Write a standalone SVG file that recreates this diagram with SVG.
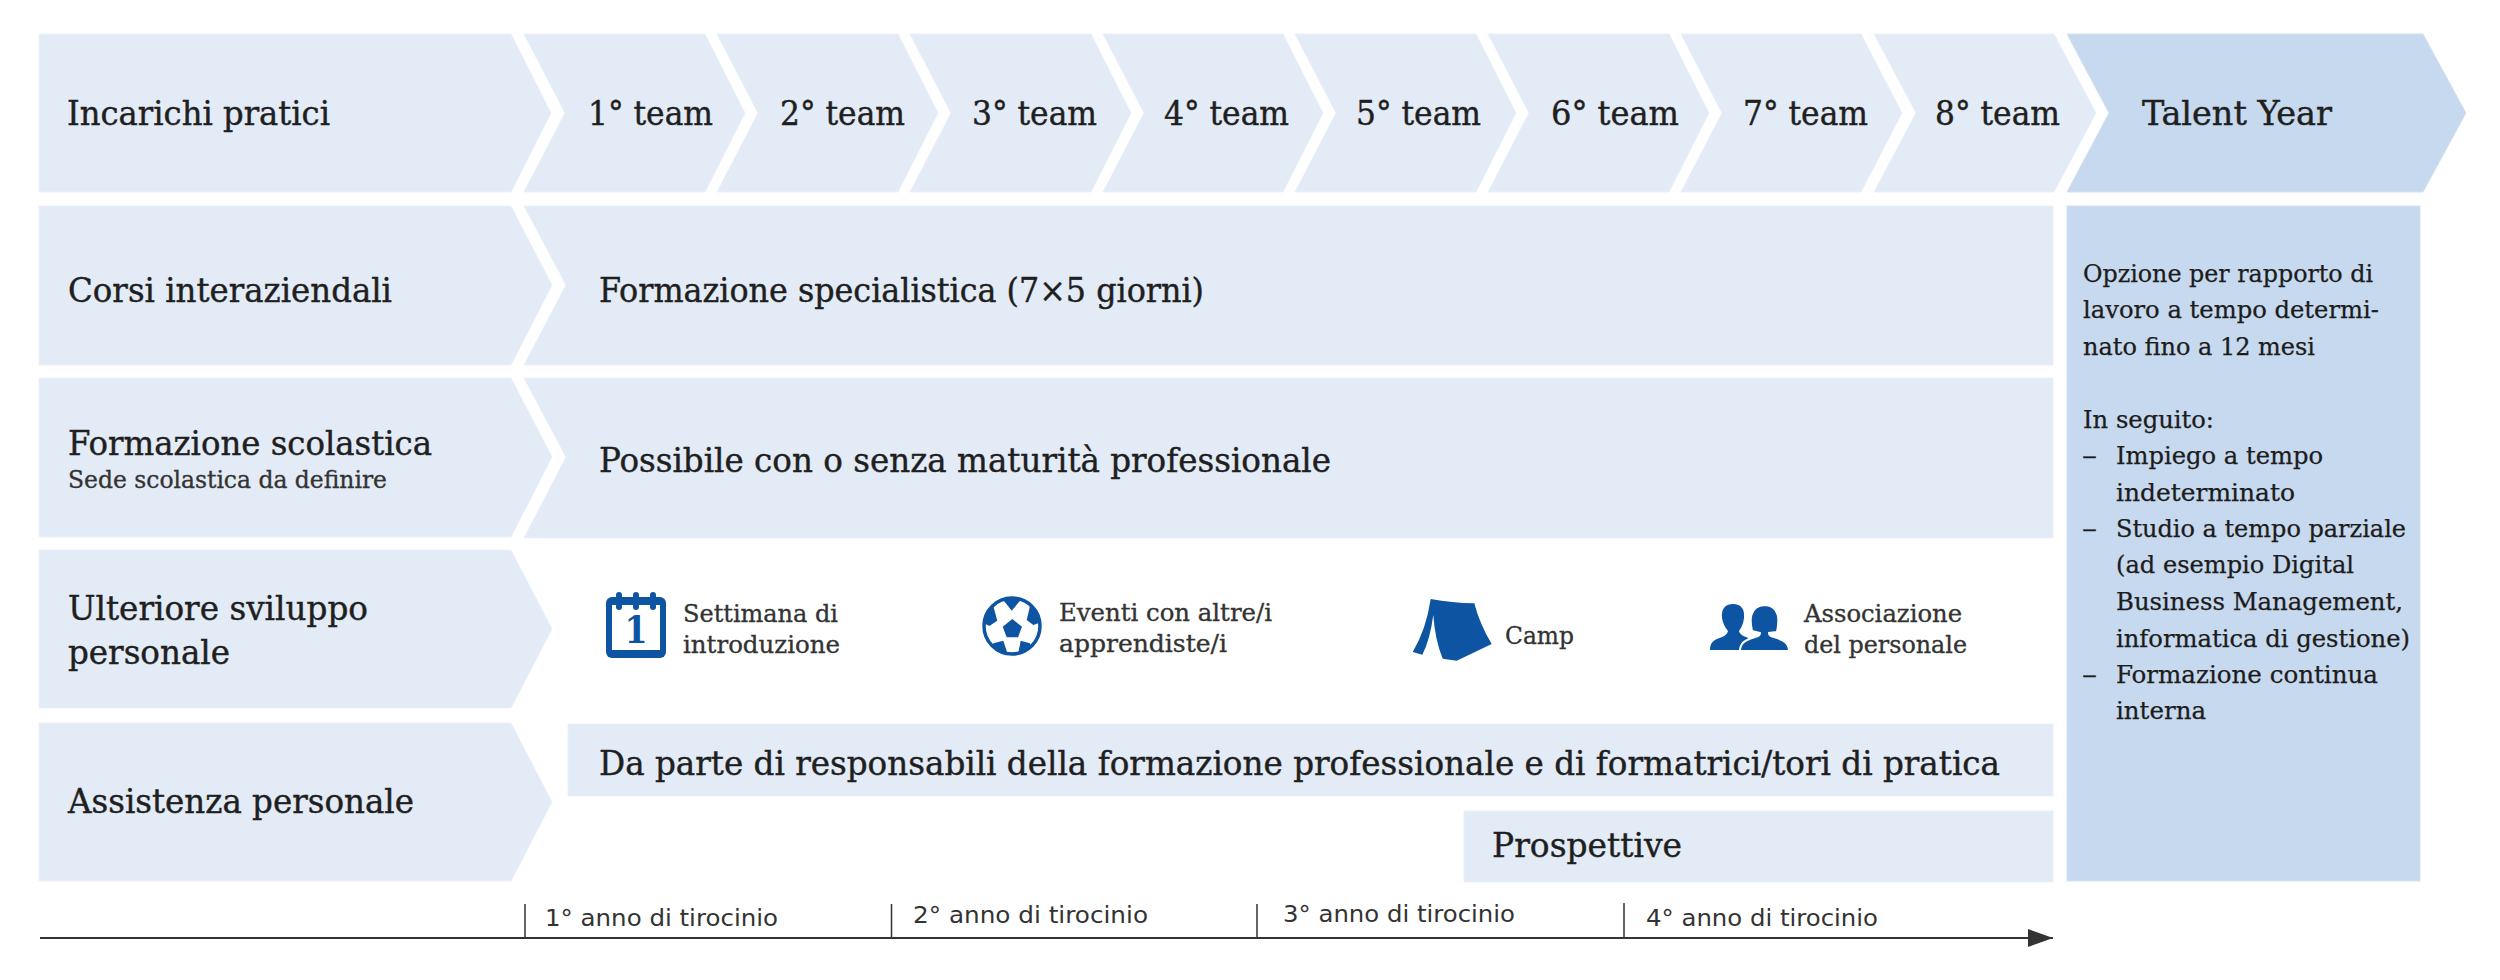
<svg xmlns="http://www.w3.org/2000/svg" width="2500" height="980" viewBox="0 0 2500 980">
<style>
.a{fill:#e3ebf6;stroke:#ebf1f9;stroke-width:1}
.b{fill:#c7d9ee;stroke:#d3e2f2;stroke-width:1}
text{font-family:"DejaVu Serif Condensed","DejaVu Serif",serif;fill:#1f1f1f}
.l{font-size:34px;stroke:#1f1f1f;stroke-width:.4}
.m{font-size:25px;fill:#1c1c1c;stroke:#1c1c1c;stroke-width:.25}
.s{font-size:24px;fill:#333;stroke:#333;stroke-width:.3}
.y{font-family:"DejaVu Sans","Liberation Sans",sans-serif;font-size:23px;fill:#333}
.i{fill:#0d55a3}
.ax{stroke:#333;fill:none}
</style>
<defs>
<marker id="ah" markerUnits="userSpaceOnUse" markerWidth="26" markerHeight="20" refX="25" refY="10" orient="auto"><path d="M0 1L25 10L0 19Z" fill="#333"/></marker>
<clipPath id="ball"><circle cx="1012" cy="626" r="29"/></clipPath>
</defs>
<rect width="2500" height="980" fill="#fff"/>

<g id="row-incarichi">
<path class="a" d="M39 34H511L551 113L511 192H39Z"/>
<text class="l" x="67" y="125" textLength="263" lengthAdjust="spacingAndGlyphs">Incarichi pratici</text>
</g>
<g id="team-1"><path class="a" d="M524 34H705L745 113L705 192H524L565 113Z"/><text class="l" x="588" y="125" textLength="125" lengthAdjust="spacingAndGlyphs">1° team</text></g>
<g id="team-2"><path class="a" d="M717 34H898L938 113L898 192H717L758 113Z"/><text class="l" x="780" y="125" textLength="125" lengthAdjust="spacingAndGlyphs">2° team</text></g>
<g id="team-3"><path class="a" d="M910 34H1091L1131 113L1091 192H910L951 113Z"/><text class="l" x="972" y="125" textLength="125" lengthAdjust="spacingAndGlyphs">3° team</text></g>
<g id="team-4"><path class="a" d="M1103 34H1283L1323 113L1283 192H1103L1144 113Z"/><text class="l" x="1164" y="125" textLength="125" lengthAdjust="spacingAndGlyphs">4° team</text></g>
<g id="team-5"><path class="a" d="M1295 34H1476L1516 113L1476 192H1295L1336 113Z"/><text class="l" x="1356" y="125" textLength="125" lengthAdjust="spacingAndGlyphs">5° team</text></g>
<g id="team-6"><path class="a" d="M1488 34H1669L1709 113L1669 192H1488L1529 113Z"/><text class="l" x="1551" y="125" textLength="128" lengthAdjust="spacingAndGlyphs">6° team</text></g>
<g id="team-7"><path class="a" d="M1681 34H1861L1902 113L1861 192H1681L1722 113Z"/><text class="l" x="1743" y="125" textLength="125" lengthAdjust="spacingAndGlyphs">7° team</text></g>
<g id="team-8"><path class="a" d="M1874 34H2054L2096 113L2054 192H1874L1916 113Z"/><text class="l" x="1935" y="125" textLength="125" lengthAdjust="spacingAndGlyphs">8° team</text></g>
<g id="talent-year"><path class="b" d="M2067 34H2423L2466 113L2423 192H2067L2109 113Z"/><text class="l" x="2142" y="125" textLength="190" lengthAdjust="spacingAndGlyphs">Talent Year</text></g>

<g id="row-corsi">
<path class="a" d="M39 206H511L552 285L511 365H39Z"/>
<text class="l" x="68" y="302" textLength="324" lengthAdjust="spacingAndGlyphs">Corsi interaziendali</text>
</g>
<g id="corsi-bar">
<path class="a" d="M524 206H2053V365H524L566 285Z"/>
<text class="l" x="599" y="302" textLength="605" lengthAdjust="spacingAndGlyphs">Formazione specialistica (7×5 giorni)</text>
</g>
<g id="row-formazione">
<path class="a" d="M39 378H511L552 457L511 537H39Z"/>
<text class="l" x="68" y="455" textLength="364" lengthAdjust="spacingAndGlyphs">Formazione scolastica</text>
<text class="s" x="68" y="488" textLength="319" lengthAdjust="spacingAndGlyphs">Sede scolastica da definire</text>
</g>
<g id="formazione-bar">
<path class="a" d="M524 378H2053V538H524L566 457Z"/>
<text class="l" x="599" y="472" textLength="732" lengthAdjust="spacingAndGlyphs">Possibile con o senza maturità professionale</text>
</g>
<g id="row-sviluppo">
<path class="a" d="M39 550H511L552 629L511 708H39Z"/>
<text class="l" x="68" y="620" textLength="300" lengthAdjust="spacingAndGlyphs">Ulteriore sviluppo</text>
<text class="l" x="68" y="664" textLength="162" lengthAdjust="spacingAndGlyphs">personale</text>
</g>
<g id="settimana">
<rect class="i" x="606" y="597" width="60" height="61" rx="6"/>
<rect x="612" y="605" width="48" height="45" fill="#fff"/>
<path d="M619 595V607M636 595V607M653 595V607" stroke="#0d55a3" stroke-width="6" stroke-linecap="round"/>
<text x="636" y="643" text-anchor="middle" font-size="37" font-weight="700" style="fill:#0d55a3">1</text>
<text class="s" x="683" y="622" textLength="155" lengthAdjust="spacingAndGlyphs">Settimana di</text>
<text class="s" x="683" y="653" textLength="157" lengthAdjust="spacingAndGlyphs">introduzione</text>
</g>
<g id="eventi">
<circle cx="1012" cy="626" r="28" fill="#fff" stroke="#0d55a3" stroke-width="3.5"/>
<g clip-path="url(#ball)" class="i">
<path d="M1012.3 619L1022 626.7L1018 637.3L1006.7 637.3L1002.7 626.7Z"/>
<path d="M1000 596L1011.7 610.7L1024 596Z"/>
<path d="M982 622L989.3 626L997.3 620.7L993.3 606L982 606Z"/>
<path d="M1042 622L1033.3 625L1026.7 620L1030 606L1042 606Z"/>
<path d="M993.3 643.3L1003.3 640.7L1008.3 656L990 656Z"/>
<path d="M1030 643.3L1020.7 640.7L1017.7 656L1034 656Z"/>
</g>
<text class="s" x="1059" y="621" textLength="213" lengthAdjust="spacingAndGlyphs">Eventi con altre/i</text>
<text class="s" x="1059" y="652" textLength="168" lengthAdjust="spacingAndGlyphs">apprendiste/i</text>
</g>
<g id="camp">
<path class="i" d="M1430.7 599Q1452 603 1474.3 603.3Q1480 625 1491.7 644L1456.7 660.7L1442.7 658.7Q1435 640 1433.3 615Q1430 640 1422.3 654.7L1412.7 652Q1426 630 1430.7 599Z"/>
<text class="s" x="1505" y="644" textLength="69" lengthAdjust="spacingAndGlyphs">Camp</text>
</g>
<g id="associazione">
<path class="i" d="M1710 650C1710 643 1713 640 1722 637Q1727 635 1728 631Q1723 625 1722 618C1721 608 1726 604 1733 604C1741 604 1745 609 1744 618Q1743 626 1739 631Q1740 635 1746 637L1750 639L1740 650Z"/>
<path class="i" stroke="#fff" stroke-width="2" d="M1740 651C1740 643 1745 640 1755 637Q1760 636 1760 633L1752 631C1750 622 1748 606 1765 605C1781 606 1779 622 1777 632L1769 633Q1769 636 1774 637C1784 640 1789 643 1789 651Z"/>
<text class="s" x="1804" y="622" textLength="158" lengthAdjust="spacingAndGlyphs">Associazione</text>
<text class="s" x="1804" y="653" textLength="163" lengthAdjust="spacingAndGlyphs">del personale</text>
</g>
<g id="row-assistenza">
<path class="a" d="M39 723H511L552 802L511 881H39Z"/>
<text class="l" x="68" y="813" textLength="346" lengthAdjust="spacingAndGlyphs">Assistenza personale</text>
</g>
<g id="assistenza-bar">
<rect class="a" x="568" y="724" width="1485" height="72"/>
<text class="l" x="599" y="775" textLength="1401" lengthAdjust="spacingAndGlyphs">Da parte di responsabili della formazione professionale e di formatrici/tori di pratica</text>
</g>
<g id="prospettive">
<rect class="a" x="1464" y="811" width="589" height="71"/>
<text class="l" x="1492" y="857" textLength="190" lengthAdjust="spacingAndGlyphs">Prospettive</text>
</g>
<g id="talent-panel">
<rect class="b" x="2067" y="206" width="353" height="675"/>
<text class="m" x="2083" y="282" textLength="290" lengthAdjust="spacingAndGlyphs">Opzione per rapporto di</text>
<text class="m" x="2083" y="318" textLength="296" lengthAdjust="spacingAndGlyphs">lavoro a tempo determi-</text>
<text class="m" x="2083" y="355" textLength="232" lengthAdjust="spacingAndGlyphs">nato fino a 12 mesi</text>
<text class="m" x="2083" y="428" textLength="131" lengthAdjust="spacingAndGlyphs">In seguito:</text>
<text class="m" x="2082" y="464" textLength="15" lengthAdjust="spacingAndGlyphs">–</text>
<text class="m" x="2116" y="464" textLength="207" lengthAdjust="spacingAndGlyphs">Impiego a tempo</text>
<text class="m" x="2116" y="501" textLength="179" lengthAdjust="spacingAndGlyphs">indeterminato</text>
<text class="m" x="2082" y="537" textLength="15" lengthAdjust="spacingAndGlyphs">–</text>
<text class="m" x="2116" y="537" textLength="290" lengthAdjust="spacingAndGlyphs">Studio a tempo parziale</text>
<text class="m" x="2116" y="573" textLength="238" lengthAdjust="spacingAndGlyphs">(ad esempio Digital</text>
<text class="m" x="2116" y="610" textLength="287" lengthAdjust="spacingAndGlyphs">Business Management,</text>
<text class="m" x="2116" y="647" textLength="294" lengthAdjust="spacingAndGlyphs">informatica di gestione)</text>
<text class="m" x="2082" y="683" textLength="15" lengthAdjust="spacingAndGlyphs">–</text>
<text class="m" x="2116" y="683" textLength="262" lengthAdjust="spacingAndGlyphs">Formazione continua</text>
<text class="m" x="2116" y="719" textLength="90" lengthAdjust="spacingAndGlyphs">interna</text>
</g>
<g id="connectors">
<path class="ax" stroke-width="2" d="M40 938H2053" marker-end="url(#ah)"/>
<path class="ax" stroke-width="1.5" d="M525 904V938M891.500 904V938M1257 904V938M1624 903V938"/>
</g>
<g id="years">
<text class="y" x="545" y="926" textLength="233" lengthAdjust="spacingAndGlyphs">1° anno di tirocinio</text>
<text class="y" x="913" y="923" textLength="235" lengthAdjust="spacingAndGlyphs">2° anno di tirocinio</text>
<text class="y" x="1283" y="922" textLength="232" lengthAdjust="spacingAndGlyphs">3° anno di tirocinio</text>
<text class="y" x="1646" y="926" textLength="232" lengthAdjust="spacingAndGlyphs">4° anno di tirocinio</text>
</g>
</svg>
